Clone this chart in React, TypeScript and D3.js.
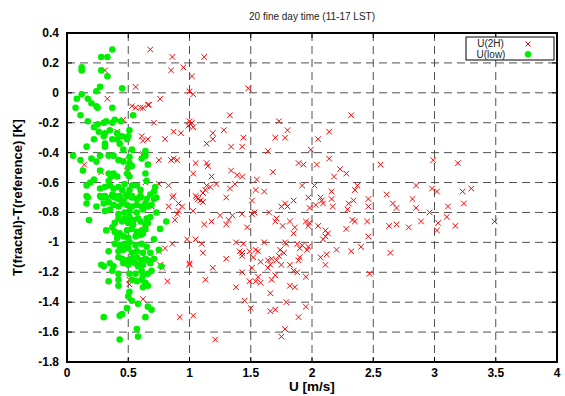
import React from "react";
import * as d3 from "d3";

// U(2H) points: [U m/s, dT K]
const u2h: [number, number][] = [
  [0.68, 0.29], [0.86, 0.24], [1.12, 0.24], [0.85, 0.15], [0.95, 0.17], [0.31, 0.15], [1.02, 0.11],
  [0.56, 0.04], [1.0, 0.01], [1.03, -0.01], [0.33, -0.04], [0.76, -0.04], [0.53, -0.09], [0.56, -0.1],
  [0.6, -0.1], [0.62, -0.1], [0.66, -0.08], [0.67, -0.08], [0.46, -0.18], [0.71, -0.2], [1.0, -0.19],
  [1.01, -0.21], [1.03, -0.23], [0.99, -0.22], [1.02, -0.2], [0.41, -0.26], [0.87, -0.26], [0.93, -0.27],
  [0.61, -0.29], [0.66, -0.31], [0.62, -0.32], [0.8, -0.31], [1.14, -0.34], [0.46, -0.45], [0.62, -0.41],
  [0.62, -0.42], [0.66, -0.48], [0.75, -0.45], [0.85, -0.45], [0.87, -0.44], [0.9, -0.45], [1.05, -0.47],
  [1.14, -0.47], [1.15, -0.49], [0.14, -0.48], [0.28, -0.53], [0.49, -0.52], [0.5, -0.55], [1.03, -0.54],
  [0.64, -0.6], [0.75, -0.61], [0.83, -0.62], [1.14, -0.62], [1.13, -0.65], [1.11, -0.67], [0.87, -0.69],
  [1.05, -0.69], [0.6, -0.65],
  [0.47, -0.68], [0.59, -0.7], [0.69, -0.76], [0.86, -0.7], [0.83, -0.76], [0.91, -0.74], [0.94, -0.76],
  [0.9, -0.81], [0.91, -0.79], [0.88, -0.85], [1.03, -0.79], [1.06, -0.7], [1.09, -0.72], [1.11, -0.73],
  [1.07, -0.71], [1.11, -0.67], [1.12, -0.88], [0.64, -0.91], [0.98, -0.98], [0.86, -1.01], [0.8, -1.04],
  [1.05, -0.98], [1.1, -1.01], [1.11, -1.07], [0.75, -1.06], [0.76, -1.15], [0.78, -1.17], [1.0, -1.14],
  [1.0, -1.15], [0.82, -1.26], [1.13, -1.25], [0.51, -1.25], [0.51, -1.28], [0.62, -1.38], [0.92, -1.5],
  [1.03, -1.49],
  [1.48, 0.03], [1.33, -0.15], [1.73, -0.19], [2.32, -0.15], [1.19, -0.27], [1.19, -0.31], [1.28, -0.25],
  [1.44, -0.3], [1.43, -0.36], [1.34, -0.36], [1.8, -0.25], [1.7, -0.3], [1.78, -0.3], [1.64, -0.39],
  [1.99, -0.38], [2.05, -0.31], [2.14, -0.26], [1.34, -0.52], [1.39, -0.55], [1.43, -0.56], [1.18, -0.56],
  [1.68, -0.53], [1.89, -0.47], [1.93, -0.48], [2.04, -0.48], [2.14, -0.44], [2.23, -0.51], [2.28, -0.54],
  [2.18, -0.56], [1.55, -0.58], [1.37, -0.61], [1.17, -0.63], [1.22, -0.61], [1.33, -0.64], [1.54, -0.65],
  [1.61, -0.66], [1.92, -0.62], [2.02, -0.62], [2.16, -0.66], [2.37, -0.62], [2.35, -0.65],
  [1.3, -0.7], [1.51, -0.72], [1.75, -0.76], [1.78, -0.74], [1.8, -0.76], [1.85, -0.72], [1.97, -0.7],
  [1.98, -0.77], [2.03, -0.75], [2.07, -0.7], [2.08, -0.72], [2.09, -0.74], [2.16, -0.71], [2.17, -0.76],
  [2.3, -0.74], [2.34, -0.72], [2.29, -0.78], [2.46, -0.71], [2.46, -0.76], [1.25, -0.82], [1.35, -0.82],
  [1.32, -0.85], [1.3, -0.88], [1.18, -0.86], [1.43, -0.81], [1.51, -0.81], [1.53, -0.8], [1.65, -0.8],
  [1.47, -0.9], [1.71, -0.84], [1.7, -0.86], [1.76, -0.89], [1.82, -0.86], [1.86, -0.9], [1.85, -0.94],
  [1.95, -0.86], [1.98, -0.87], [1.97, -0.89], [2.05, -0.89], [2.11, -0.92], [2.13, -0.94], [2.11, -0.96],
  [2.09, -0.98], [2.28, -0.91], [2.33, -0.85], [2.35, -0.86], [2.45, -0.86], [2.46, -0.96], [1.38, -1.0],
  [1.44, -1.01], [1.41, -1.06], [1.43, -1.07], [1.43, -1.09], [1.3, -1.11], [1.19, -1.17], [1.49, -1.06],
  [1.54, -1.05], [1.56, -1.06], [1.52, -1.1], [1.61, -1.0], [1.58, -1.13], [1.64, -1.12], [1.67, -1.11],
  [1.66, -1.15], [1.64, -1.17], [1.73, -1.09], [1.74, -1.05], [1.77, -1.07], [1.71, -1.12], [1.75, -1.15],
  [1.78, -1.0], [1.79, -1.01], [1.82, -1.15], [1.85, -1.19], [1.88, -1.2], [1.9, -1.1], [1.89, -1.12],
  [1.88, -1.01], [1.92, -1.02], [1.9, -1.04], [1.96, -1.05], [1.97, -1.03], [1.51, -1.17], [1.43, -1.2],
  [1.49, -1.26], [1.56, -1.23], [1.58, -1.27], [1.54, -1.26], [1.67, -1.25], [1.7, -1.22], [1.38, -1.3],
  [1.95, -1.23], [1.82, -1.29], [1.86, -1.3], [1.66, -1.34], [1.45, -1.39], [1.5, -1.44], [1.66, -1.46],
  [1.7, -1.45], [1.79, -1.4], [1.95, -1.43], [1.89, -1.5], [1.78, -1.58], [1.75, -1.63], [1.21, -1.65],
  [2.07, -1.1], [2.12, -1.08], [2.11, -1.15], [2.2, -1.05], [2.32, -1.06], [2.4, -1.03], [2.47, -1.21],
  [2.56, -0.48], [2.99, -0.45], [3.19, -0.47], [2.61, -0.68], [2.66, -0.74], [2.69, -0.77], [2.85, -0.62],
  [2.82, -0.71], [2.85, -0.77], [2.89, -0.86], [2.96, -0.8], [2.98, -0.64], [3.02, -0.66], [3.03, -0.87],
  [3.02, -0.92], [3.11, -0.76], [3.1, -0.83], [3.17, -0.89], [3.23, -0.66], [3.3, -0.64], [3.24, -0.74],
  [3.49, -0.86], [2.63, -0.89], [2.69, -0.88], [2.79, -0.9], [2.64, -1.07],
];

// U(low) points
const ulow: [number, number][] = [
  [0.37, 0.29], [0.28, 0.24], [0.33, 0.24], [0.12, 0.17], [0.12, 0.15], [0.28, 0.15], [0.33, 0.11],
  [0.27, 0.04], [0.24, 0.01], [0.45, 0.03], [0.12, -0.01], [0.08, -0.04], [0.17, -0.04], [0.2, -0.07],
  [0.24, -0.09], [0.25, -0.1], [0.07, -0.1], [0.37, -0.1], [0.11, -0.15], [0.54, -0.15], [0.17, -0.19],
  [0.25, -0.21], [0.3, -0.2], [0.32, -0.19], [0.37, -0.2], [0.39, -0.18], [0.44, -0.19], [0.22, -0.23],
  [0.35, -0.25], [0.51, -0.25], [0.26, -0.26], [0.31, -0.27], [0.41, -0.27], [0.5, -0.29], [0.22, -0.31],
  [0.3, -0.29], [0.37, -0.31], [0.41, -0.31], [0.45, -0.29], [0.49, -0.31], [0.31, -0.34], [0.31, -0.36],
  [0.16, -0.36], [0.43, -0.34], [0.46, -0.38], [0.53, -0.38], [0.64, -0.39], [0.05, -0.42], [0.11, -0.45],
  [0.2, -0.44], [0.27, -0.42], [0.34, -0.42], [0.38, -0.42], [0.24, -0.46], [0.42, -0.45], [0.46, -0.46],
  [0.51, -0.43], [0.51, -0.47], [0.53, -0.49], [0.5, -0.5], [0.61, -0.44], [0.64, -0.42], [0.66, -0.48],
  [0.13, -0.52], [0.27, -0.52], [0.34, -0.54], [0.38, -0.54], [0.41, -0.56], [0.36, -0.56], [0.49, -0.54],
  [0.51, -0.56], [0.64, -0.54], [0.22, -0.58], [0.19, -0.6], [0.16, -0.62], [0.34, -0.59], [0.47, -0.61],
  [0.53, -0.62], [0.57, -0.62], [0.65, -0.59], [0.27, -0.64], [0.31, -0.63], [0.35, -0.62], [0.38, -0.64],
  [0.42, -0.63], [0.45, -0.65], [0.51, -0.65], [0.6, -0.65], [0.72, -0.63], [0.71, -0.66], [0.16, -0.69],
  [0.27, -0.69], [0.31, -0.69], [0.37, -0.69], [0.39, -0.69], [0.43, -0.69], [0.49, -0.69], [0.53, -0.69],
  [0.6, -0.69],
  [0.17, -0.7], [0.16, -0.74], [0.18, -0.85], [0.24, -0.76],
  [0.28, -0.7], [0.32, -0.7], [0.37, -0.68], [0.39, -0.7], [0.42, -0.71], [0.46, -0.72], [0.49, -0.68],
  [0.53, -0.7], [0.57, -0.71], [0.6, -0.7], [0.65, -0.71], [0.68, -0.68], [0.71, -0.71], [0.73, -0.7],
  [0.3, -0.74], [0.34, -0.73], [0.38, -0.75], [0.42, -0.76], [0.45, -0.74], [0.49, -0.75], [0.53, -0.76],
  [0.57, -0.75], [0.61, -0.76], [0.64, -0.74], [0.66, -0.76], [0.69, -0.75],
  [0.31, -0.79], [0.35, -0.78], [0.42, -0.81], [0.47, -0.8], [0.51, -0.79], [0.57, -0.8], [0.62, -0.78],
  [0.73, -0.8], [0.42, -0.84], [0.47, -0.84], [0.51, -0.83], [0.54, -0.85], [0.58, -0.84], [0.65, -0.84],
  [0.68, -0.83], [0.39, -0.87], [0.45, -0.86], [0.5, -0.87], [0.54, -0.88], [0.6, -0.86], [0.64, -0.88],
  [0.66, -0.87], [0.81, -0.86], [0.32, -0.92], [0.37, -0.9], [0.39, -0.93], [0.43, -0.94], [0.49, -0.92],
  [0.53, -0.91], [0.57, -0.93], [0.61, -0.92], [0.64, -0.91], [0.76, -0.91], [0.41, -0.97], [0.46, -0.96],
  [0.5, -0.97], [0.56, -0.96], [0.6, -0.95], [0.62, -0.94], [0.71, -0.98], [0.39, -1.01], [0.43, -1.02],
  [0.47, -1.01], [0.51, -1.0], [0.56, -1.02], [0.61, -1.01], [0.65, -1.03], [0.34, -1.06], [0.42, -1.06],
  [0.46, -1.05], [0.5, -1.04], [0.53, -1.07], [0.57, -1.06], [0.62, -1.07], [0.68, -1.07], [0.71, -1.11],
  [0.75, -1.05], [0.42, -1.1], [0.45, -1.11], [0.49, -1.12], [0.53, -1.11], [0.57, -1.1], [0.61, -1.12],
  [0.64, -1.11], [0.66, -1.12], [0.28, -1.15], [0.3, -1.16], [0.35, -1.14], [0.38, -1.16], [0.37, -1.19],
  [0.46, -1.14], [0.5, -1.15], [0.53, -1.13], [0.56, -1.14], [0.58, -1.16], [0.61, -1.13], [0.62, -1.15],
  [0.68, -1.14], [0.69, -1.19], [0.77, -1.16], [0.42, -1.21], [0.51, -1.21], [0.56, -1.21], [0.61, -1.19],
  [0.62, -1.22], [0.66, -1.21], [0.34, -1.26], [0.42, -1.25], [0.53, -1.25], [0.57, -1.26], [0.61, -1.25],
  [0.64, -1.27], [0.66, -1.29], [0.62, -1.3], [0.42, -1.29], [0.51, -1.33], [0.5, -1.36], [0.53, -1.39],
  [0.58, -1.41], [0.49, -1.44], [0.66, -1.43], [0.69, -1.45], [0.45, -1.48], [0.43, -1.49], [0.3, -1.5],
  [0.64, -1.5], [0.57, -1.58], [0.58, -1.63], [0.43, -1.65],
];

const xTicks = [0, 0.5, 1, 1.5, 2, 2.5, 3, 3.5, 4];
const yTicks = [0.4, 0.2, 0, -0.2, -0.4, -0.6, -0.8, -1, -1.2, -1.4, -1.6, -1.8];

const W = 565;
const H = 396;
const m = { left: 67, right: 8, top: 33, bottom: 34 };
const font = "Arial, 'Liberation Sans', sans-serif";
const red = "#ff0000";
const green = "#00ee00";

export default function App() {
  const x = d3.scaleLinear().domain([0, 4]).range([m.left, W - m.right]);
  const y = d3.scaleLinear().domain([-1.8, 0.4]).range([H - m.bottom, m.top]);
  const x0 = x(0), x1 = x(4), y0 = y(-1.8), y1 = y(0.4);
  const cross = (cx: number, cy: number, s = 2.8) =>
    `M${cx - s},${cy - s}L${cx + s},${cy + s}M${cx - s},${cy + s}L${cx + s},${cy - s}`;
  const fmt = (v: number) => (Math.abs(v) < 1e-9 ? "0" : String(+v.toFixed(1)));

  return (
    <div style={{ position: "absolute", left: 0, top: 0 }}>
      <svg width={W} height={H} style={{ display: "block", background: "#fff" }}>
        <text x={312} y={20} textAnchor="middle" fontFamily={font} fontSize={10} fill="#222">
          20 fine day time (11-17 LST)
        </text>
        {/* grid */}
        <g stroke="#333" strokeWidth={1} strokeDasharray="8,5" opacity={0.85}>
          {xTicks.slice(1, -1).map((t) => (
            <line key={"gx" + t} x1={x(t)} x2={x(t)} y1={y1} y2={y0} />
          ))}
          {yTicks.slice(1, -1).map((t) => (
            <line key={"gy" + t} x1={x0} x2={x1} y1={y(t)} y2={y(t)} />
          ))}
        </g>
        {/* inner ticks */}
        <g stroke="#000" strokeWidth={1}>
          {xTicks.map((t) => (
            <g key={"tx" + t}>
              <line x1={x(t)} x2={x(t)} y1={y0} y2={y0 - 5} />
              <line x1={x(t)} x2={x(t)} y1={y1} y2={y1 + 5} />
            </g>
          ))}
          {yTicks.map((t) => (
            <g key={"ty" + t}>
              <line x1={x0} x2={x0 + 5} y1={y(t)} y2={y(t)} />
              <line x1={x1} x2={x1 - 5} y1={y(t)} y2={y(t)} />
            </g>
          ))}
        </g>
        {/* points */}
        <path
          d={u2h.map((d) => cross(x(d[0]), y(d[1]))).join("")}
          stroke={red}
          strokeWidth={1}
          fill="none"
        />
        <g fill={green}>
          {ulow.map((d, i) => (
            <circle key={i} cx={x(d[0])} cy={y(d[1])} r={3.3} />
          ))}
        </g>
        <rect x={x0} y={y1} width={x1 - x0} height={y0 - y1} fill="none" stroke="#000" strokeWidth={2} />
        {/* tick labels */}
        <g fontFamily={font} fontSize={12} fontWeight="bold" fill="#000">
          {xTicks.map((t) => (
            <text key={"lx" + t} x={x(t)} y={y0 + 15} textAnchor="middle">
              {fmt(t)}
            </text>
          ))}
          {yTicks.map((t) => (
            <text key={"ly" + t} x={x0 - 8} y={y(t) + 4} textAnchor="end">
              {fmt(t)}
            </text>
          ))}
        </g>
        <text x={312} y={391} textAnchor="middle" fontFamily={font} fontSize={13.5} fontWeight="bold">
          U [m/s]
        </text>
        <text
          transform={`translate(22,${(y0 + y1) / 2}) rotate(-90)`}
          textAnchor="middle"
          fontFamily={font}
          fontSize={13}
          fontWeight="bold"
        >
          T(fractal)-T(reference) [K]
        </text>
        {/* legend */}
        <g fontFamily={font} fontSize={10} fill="#222">
          <rect x={466} y={37} width={88} height={23} fill="#fff" stroke="#000" strokeWidth={1} />
          <text x={490.5} y={47} textAnchor="middle">U(2H)</text>
          <text x={491} y={58} textAnchor="middle">U(low)</text>
          <path d={cross(528, 44, 2.5)} stroke={red} strokeWidth={1} />
          <circle cx={528} cy={54.3} r={3.2} fill={green} />
        </g>
      </svg>
    </div>
  );
}
